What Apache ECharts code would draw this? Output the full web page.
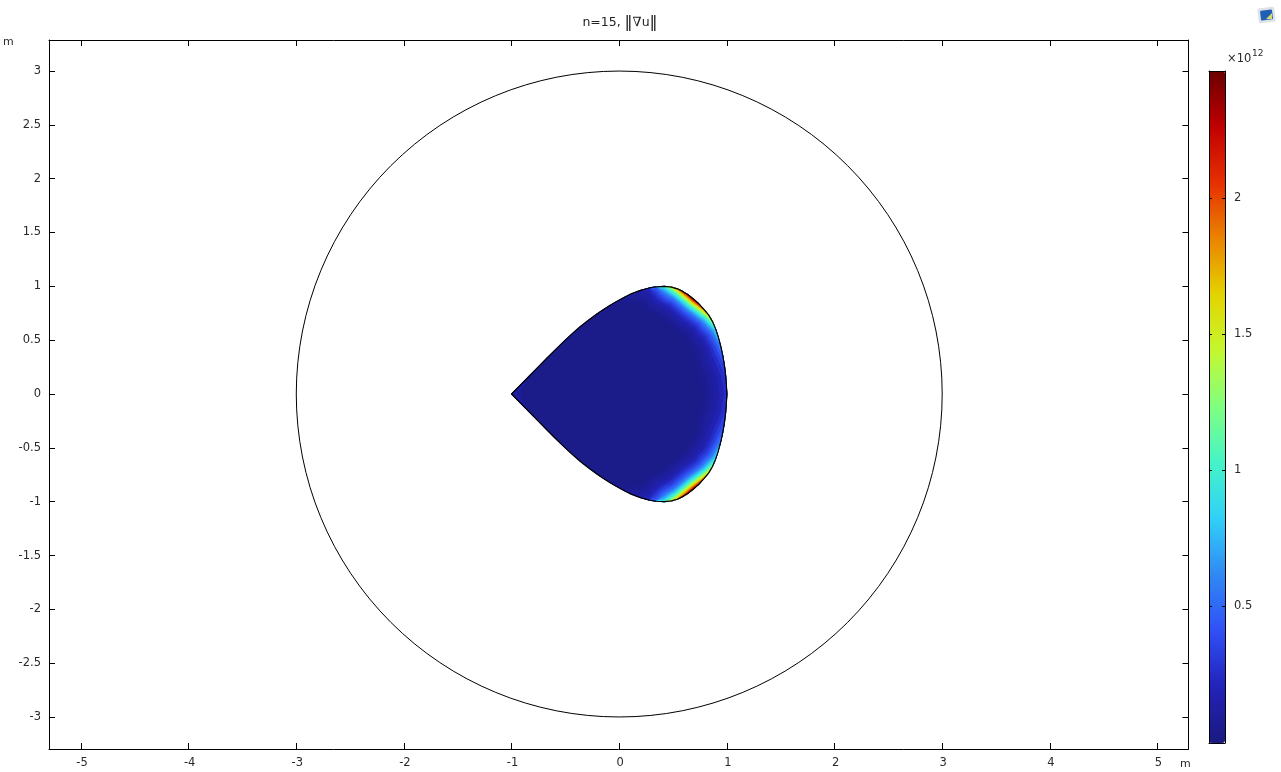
<!DOCTYPE html>
<html><head><meta charset="utf-8">
<style>html,body{margin:0;padding:0;background:#fff}#c{width:1281px;height:772px}</style>
<script src="https://cdn.jsdelivr.net/npm/echarts@6/dist/echarts.min.js"></script>
</head><body><div id="c"></div>
<script>
const N = null;
const titleText = '{t|n=15, }{b|‖}{g|∇}{t|u}{b|‖}';
const xTicks = [-5,-4,-3,-2,-1,0,1,2,3,4,5];
const yTicks = [-3,-2.5,-2,-1.5,-1,-0.5,0,0.5,1,1.5,2,2.5,3];
const barTicks = [0.5,1,1.5,2];
const circleRadius = 3;
const barColors = ['#1a1a80','#2222b8','#3050f6','#3088f4','#30d0f8','#44f4c8','#80ff80','#c4f830','#e4d400','#ea8400','#e63000','#c00000','#6b0000'];
// upper half of the closed curve, tip to x=1 (lower half is its mirror image)
const outlineUpper = [[-1,0],[-.915,.086],[-.831,.172],[-.755,.25],[-.676,.33],[-.6,.406],[-.522,.482],[-.445,.554],[-.367,.622],[-.29,.683],[-.212,.741],[-.15,.783],[-.088,.822],[-.025,.859],[.035,.892],[.11,.93],[.19,.96],[.28,.985],[.345,.996],[.42,1],[.485,.993],[.54,.977],[.59,.953],[.64,.922],[.69,.882],[.74,.838],[.785,.788],[.83,.735],[.865,.675],[.895,.605],[.92,.53],[.945,.435],[.962,.355],[.977,.265],[.988,.175],[.995,.09],[1,0]];
// points on that curve where the contour distances below are read
const stations = [[-1,0],[-.831,.172],[-.676,.33],[-.367,.622],[-.212,.741],[-.088,.822],[.035,.892],[.19,.96],[.28,.985],[.345,.996],[.42,1],[.485,.993],[.54,.977],[.59,.953],[.64,.922],[.69,.882],[.74,.838],[.785,.788],[.83,.735],[.865,.675],[.895,.605],[.935,.473],[.962,.355],[.977,.265],[.988,.175],[1,0]];
const inwardPoint = [0.1,0];
// contour levels of |grad u| (x 1e12), first is the whole-domain background
const levels = [.03,.06,.09,.13,.18,.25,.33,.43,.55,.70,.85,1.0,1.2,1.4,1.6,1.8,2.0,2.2,2.4];
// for each level: distance (m) of that contour inward from every station
const contourDepths = [
 N,
 [.09,0,N,N,0,.015,.045,.118,.185,.255,.285,.30,.311,.324,.332,.334,.328,.316,.301,.311,.281,.258,.259,.253,.229,.225],
 [.063,0,N,N,N,N,0,.069,.136,.208,.245,.262,.275,.288,.295,.298,.292,.279,.265,.271,.241,.215,.210,.200,.177,.169],
 [.037,0,N,N,N,N,0,.025,.092,.166,.21,.23,.241,.255,.262,.265,.259,.246,.231,.234,.204,.177,.166,.152,.129,.117],
 [.014,0,N,N,N,N,N,0,.053,.128,.178,.2,.212,.225,.233,.235,.229,.217,.202,.202,.172,.143,.127,.110,.086,.072],
 [N,N,N,N,N,N,N,0,.014,.091,.145,.17,.183,.196,.203,.206,.2,.187,.173,.169,.139,.108,.088,.067,.044,.025],
 [N,N,N,N,N,N,N,N,0,.059,.122,.151,.158,.171,.179,.181,.175,.162,.148,.141,.111,.079,.055,.031,.008,0],
 [N,N,N,N,N,N,N,N,0,.028,.094,.125,.134,.147,.155,.157,.151,.138,.124,.114,.084,.051,.023,0,N,N],
 [N,N,N,N,N,N,N,N,N,0,.068,.1,.112,.125,.133,.135,.129,.116,.102,.09,.06,.025,0,N,N,N],
 [N,N,N,N,N,N,N,N,N,0,.043,.076,.09,.103,.111,.113,.107,.095,.08,.066,.036,0,N,N,N,N],
 [N,N,N,N,N,N,N,N,N,0,.022,.057,.072,.086,.093,.096,.09,.077,.062,.046,.016,0,N,N,N,N],
 [N,N,N,N,N,N,N,N,N,0,.005,.041,.058,.071,.079,.081,.075,.062,.048,.03,0,N,N,N,N,N],
 [N,N,N,N,N,N,N,N,N,N,0,.022,.041,.055,.062,.065,.059,.046,.031,.012,0,N,N,N,N,N],
 [N,N,N,N,N,N,N,N,N,N,0,.007,.028,.041,.049,.051,.045,.032,.018,0,N,N,N,N,N,N],
 [N,N,N,N,N,N,N,N,N,N,N,0,.015,.029,.036,.039,.033,.02,.005,0,N,N,N,N,N,N],
 [N,N,N,N,N,N,N,N,N,N,N,0,.005,.018,.026,.028,.022,.009,0,N,N,N,N,N,N,N],
 [N,N,N,N,N,N,N,N,N,N,N,N,0,.009,.016,.019,.013,0,N,N,N,N,N,N,N,N],
 [N,N,N,N,N,N,N,N,N,N,N,N,N,0,.008,.01,.004,0,N,N,N,N,N,N,N,N],
 [N,N,N,N,N,N,N,N,N,N,N,N,N,N,0,.002,0,N,N,N,N,N,N,N,N,N]
];

const mirrorRow = a => a.concat(a.slice(0,-1).reverse());
const closeUp = pts => pts.concat(pts.slice(0,-1).reverse().map(p=>[p[0],-p[1]]));
const ring = closeUp(stations);
const outline = closeUp(outlineUpper);
const FONT = 'DejaVu Sans';
const GRAY = '#2a2a2a';
const inner = (p,d) => {
  const dx = inwardPoint[0]-p[0], dy = inwardPoint[1]-p[1], L = Math.hypot(dx,dy);
  return [p[0]+dx/L*d, p[1]+dy/L*d];
};
function renderBand(params, api){
  const i = params.dataIndex;
  const style = {fill: api.visual('color'), stroke: api.visual('color'), lineWidth: 0.5};
  if (!contourDepths[i]) {
    return {type:'polygon', shape:{points: outline.map(p=>api.coord(p))}, style};
  }
  const row = mirrorRow(contourDepths[i]);
  const runs = []; let cur = null;
  row.forEach((d,k)=>{
    if (d===null){ cur=null; return; }
    if (!cur){ cur=[]; runs.push(cur); }
    cur.push(k);
  });
  return {type:'group', children: runs.filter(r=>r.length>1).map(r=>{
    const outer = r.map(k=>api.coord(ring[k]));
    const innerPts = r.slice().reverse().map(k=>api.coord(inner(ring[k],row[k])));
    return {type:'polygon', shape:{points: outer.concat(innerPts)}, style};
  })};
}
function frameAxis(base){ return Object.assign({
  type:'value', splitLine:{show:false}, axisLine:{show:true,onZero:false,lineStyle:{color:'#000',width:1}},
},base); }
const tick = (vals,len) => ({show:true,inside:true,length:len,lineStyle:{color:'#000',width:1},customValues:vals});
const label = (vals,m,pad) => ({show:true,customValues:vals,margin:m,padding:pad,color:GRAY,fontFamily:FONT,fontSize:11.5,hideOverlap:false,showMinLabel:true,showMaxLabel:true});

const xExt = {min:-5.297,max:5.288}, yExt = {min:-3.297,max:3.288}, barExt = {min:-0.004,max:2.467};
const chart = echarts.init(document.getElementById('c'),null,{renderer:'canvas'});
const tStyle = {fontFamily:FONT,fontSize:12.5,color:'#222'};
chart.setOption({
  animation:false, backgroundColor:'#fff',
  title:{text:titleText,left:620,top:15,textAlign:'center',padding:0,textStyle:{fontFamily:FONT,fontSize:12.5,fontWeight:'normal',color:'#222',
    rich:{t:tStyle,b:{fontFamily:'DejaVu Sans',fontSize:16,color:'#222'},g:{fontFamily:'DejaVu Serif',fontSize:13,color:'#222'}}}},
  grid:[
    {left:49,top:40,width:1139.5,height:709,containLabel:false},
    {left:1209,top:71,width:16,height:672,containLabel:false}
  ],
  xAxis:[
    frameAxis(Object.assign({gridIndex:0,position:'bottom',axisTick:tick(xTicks,6),axisLabel:label(xTicks,8,[0,0,0,2])},xExt)),
    frameAxis(Object.assign({gridIndex:0,position:'top',axisTick:tick(xTicks,6),axisLabel:{show:false}},xExt)),
    frameAxis({gridIndex:1,position:'bottom',min:0,max:1,axisTick:{show:false},axisLabel:{show:false},z:5}),
    frameAxis({gridIndex:1,position:'top',min:0,max:1,axisTick:{show:false},axisLabel:{show:false},z:5})
  ],
  yAxis:[
    frameAxis(Object.assign({gridIndex:0,position:'left',axisTick:tick(yTicks,6),axisLabel:label(yTicks,8,[2,0,0,0])},yExt)),
    frameAxis(Object.assign({gridIndex:0,position:'right',axisTick:tick(yTicks,6),axisLabel:{show:false}},yExt)),
    frameAxis(Object.assign({gridIndex:1,position:'right',z:5,axisTick:tick(barTicks,3),axisLabel:label(barTicks,9,[2,0,0,0])},barExt)),
    frameAxis(Object.assign({gridIndex:1,position:'left',z:5,axisTick:tick(barTicks,3),axisLabel:{show:false}},barExt))
  ],
  visualMap:[{
    type:'continuous',show:true,min:barExt.min,max:barExt.max,seriesIndex:0,dimension:0,
    left:1209,top:71,itemWidth:16,itemHeight:672,padding:0,calculable:false,realtime:false,
    text:null,showLabel:false,hoverLink:false,z:1,
    textStyle:{fontSize:0,color:'rgba(0,0,0,0)'},formatter:()=>'',
    inRange:{color:barColors}
  }],
  series:[
    {type:'custom',name:'bands',coordinateSystem:'cartesian2d',xAxisIndex:0,yAxisIndex:0,clip:false,silent:true,
     data:levels.map((l,i)=>[l,i]),renderItem:renderBand,z:2},
    {type:'custom',name:'curve',coordinateSystem:'cartesian2d',xAxisIndex:0,yAxisIndex:0,clip:false,silent:true,
     data:[[0,0]],z:3,renderItem:(p,api)=>({type:'polygon',shape:{points:outline.map(q=>api.coord(q))},
       style:{fill:'none',stroke:'#000',lineWidth:1.2,lineJoin:'round'}})},
    {type:'custom',name:'circle',coordinateSystem:'cartesian2d',xAxisIndex:0,yAxisIndex:0,clip:false,silent:true,
     data:[[0,0,circleRadius]],z:3,renderItem:(p,api)=>{
       const c = api.coord([api.value(0),api.value(1)]);
       return {type:'circle',shape:{cx:c[0],cy:c[1],r:api.size([api.value(2),0])[0]},style:{fill:'none',stroke:'#000',lineWidth:1}};
     }}
  ],
  graphic:[
    {type:'text',left:3,top:37,style:{text:'m',fontFamily:FONT,fontSize:11,fill:GRAY}},
    {type:'text',left:1180,top:759,style:{text:'m',fontFamily:FONT,fontSize:11,fill:GRAY}},
    {type:'text',left:1227,top:53,style:{text:'×10',fontFamily:FONT,fontSize:11.5,fill:GRAY}},
    {type:'text',left:1252,top:49,style:{text:'12',fontFamily:FONT,fontSize:9,fill:GRAY}},
    {type:'rect',x:1266.5,y:15,rotation:0.12,shape:{x:-8.5,y:-7.5,width:17,height:15,r:2},style:{fill:'#dfe3e8'}},
    {type:'rect',x:1266.5,y:15,rotation:0.12,shape:{x:-6,y:-5,width:12,height:10,r:1},style:{fill:'#1f5fb5'}},
    {type:'polygon',shape:{points:[[1266,19],[1272,19],[1272,13]]},style:{fill:'#d8d870'}}
  ]
});
</script></body></html>
